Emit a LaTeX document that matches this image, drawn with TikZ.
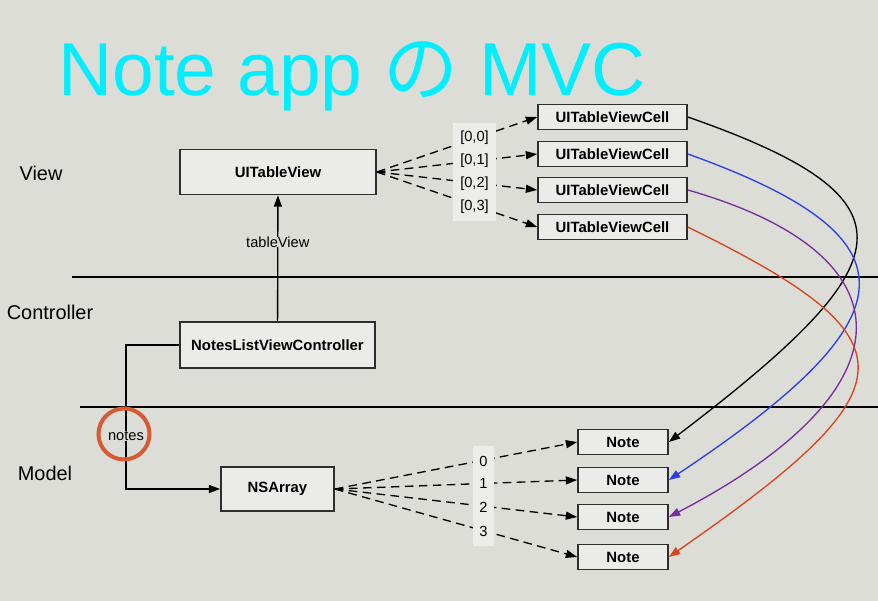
\documentclass[tikz,border=0pt]{standalone}
\usepackage{fontspec}
\setmainfont{Liberation Sans}
\newfontfamily\jpfont{Noto Sans CJK JP}
\usetikzlibrary{arrows.meta,shadows}
\definecolor{mvcBg}{HTML}{DCDDD6}
\definecolor{mvcBox}{HTML}{EBEBE9}
\definecolor{mvcEdge}{HTML}{2E2E2E}
\definecolor{mvcTag}{HTML}{ECECE8}
\definecolor{mvcCyan}{HTML}{00EEFF}
\definecolor{mvcBlue}{HTML}{2B3FE6}
\definecolor{mvcPurple}{HTML}{7B2C9E}
\definecolor{mvcRed}{HTML}{D8441E}
\definecolor{mvcRing}{HTML}{D65A33}
\tikzset{
  classbox/.style={draw=mvcEdge, fill=mvcBox, line width=0.5mm, inner sep=0pt,
    drop shadow={shadow xshift=0.8pt, shadow yshift=-0.8pt, opacity=0.25},
    font=\fontsize{12.7}{15}\selectfont\bfseries},
  cellbox/.style={classbox, minimum width=4.47cm, minimum height=0.75cm},
  notebox/.style={classbox, minimum width=2.7cm, minimum height=0.75cm},
  tier/.style={font=\fontsize{17}{20}\selectfont},
  tag/.style={font=\fontsize{12.5}{14}\selectfont, inner sep=0pt},
  tagbox/.style={fill=mvcTag, inner sep=0pt},
  tip/.style={-{Triangle[length=3.4mm,width=2.4mm]}},
  link/.style={tip, line width=0.4mm},
  dashlink/.style={tip, line width=0.4mm, dash pattern=on 2.6mm off 1.6mm},
  curve/.style={tip, line width=0.4mm},
  layer/.style={line width=0.4mm},
  ring/.style={circle, draw=mvcRing, line width=1.2mm, minimum size=1.53cm, inner sep=0pt}
}

\begin{document}
\begin{tikzpicture}[x=0.03cm,y=-0.03cm]
  \fill[mvcBg] (0,0) rectangle (878,601);
  \useasboundingbox (0,0) rectangle (878,601);

  \node[anchor=base west, text=mvcCyan, inner sep=0pt, font=\fontsize{64}{70}\selectfont]
    (title) at (58,96) {Note app {\jpfont の} MVC};

  % layers
  \draw[layer] (72,277) -- (878,277);
  \draw[layer] (80,407) -- (878,407);
  \node[tier] (viewTier) at (41,173) {View};
  \node[tier] (ctrlTier) at (50,312) {Controller};
  \node[tier] (modelTier) at (45,473) {Model};

  % view
  \node[classbox, minimum width=5.88cm, minimum height=1.35cm] (tv) at (278,172) {UITableView};
  \foreach \i/\y in {0/117,1/154,2/190,3/227}
    \node[cellbox] (cell\i) at (612.5,\y) {UITableViewCell};
  \foreach \i in {0,...,3}
    \draw[dashlink] (tv.east) -- (cell\i.west);
  \node[tagbox, minimum width=1.29cm, minimum height=2.91cm] (cellTags) at (474.5,172) {};
  \foreach \i/\y in {0/138,1/161,2/184,3/207}
    \node[tag] (idx\i) at (474.5,\y) {[0,\i]};

  % controller
  \node[classbox, minimum width=5.85cm, minimum height=1.38cm] (nlvc) at (277.5,345) {NotesListViewController};
  \draw[link] (nlvc) -- node[pos=0.63, fill=mvcBg, inner sep=1pt, tag] (tvLbl) {tableView} (tv);

  % model
  \node[classbox, minimum width=3.39cm, minimum height=1.32cm] (arr) at (277.5,489) {NSArray};
  \coordinate (turnA) at (126,345);
  \coordinate (turnB) at (126,489);
  \draw[link] (nlvc.west) -- (turnA) -- node[pos=0.63, fill=mvcBg, inner sep=1pt, tag] (notesLbl) {notes} (turnB) -- (arr.west);
  \node[ring] (notesRing) at (124,434) {};

  \foreach \i/\y in {0/442,1/480,2/517,3/557}
    \node[notebox] (note\i) at (623,\y) {Note};
  \foreach \i in {0,...,3}
    \draw[dashlink] (arr.east) -- (note\i.west);
  \node[tagbox, minimum width=0.63cm, minimum height=3cm] (noteTags) at (483.5,496) {};
  \foreach \i/\y in {0/461,1/483,2/507,3/531}
    \node[tag] (pos\i) at (483.5,\y) {\i};

  % cell -> note
  \draw[curve, black] (cell0.east) .. controls (925,200) and (905,262) .. (note0.east);
  \draw[curve, mvcBlue] (cell1.east) .. controls (922,238) and (914,317) .. (note1.east);
  \draw[curve, mvcPurple] (cell2.east) .. controls (915,255) and (913,390) .. (note2.east);
  \draw[curve, mvcRed] (cell3.east) .. controls (918,340) and (915,386) .. (note3.east);
\end{tikzpicture}
\end{document}
